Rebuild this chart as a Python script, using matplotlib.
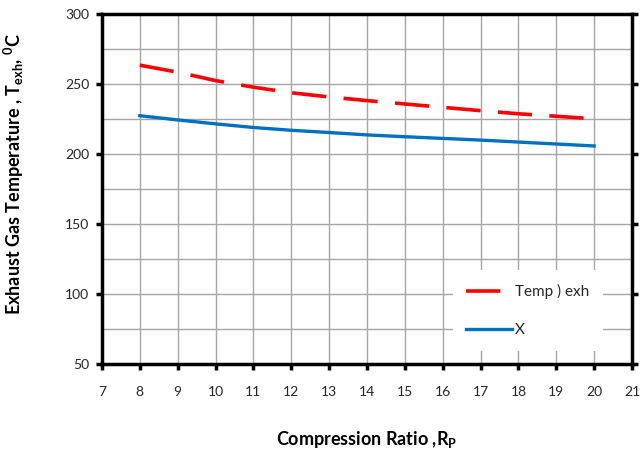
import matplotlib
matplotlib.use("Agg")
import matplotlib.pyplot as plt
from matplotlib.ticker import MultipleLocator

plt.rcParams['font.family'] = ['Lato', 'DejaVu Sans']
plt.rcParams['mathtext.fontset'] = 'custom'
plt.rcParams['mathtext.rm'] = 'Lato'
plt.rcParams['mathtext.bf'] = 'Lato:bold'

compression_ratio = [8, 9, 10, 11, 12, 13, 14, 15, 16, 17, 18, 19, 20]
temp_exh = [263.5, 258.5, 252.5, 247.8, 243.8, 240.8, 238.2, 235.8, 233.4, 231.0, 228.8, 227.0, 225.2]
x_series = [227.4, 224.4, 221.6, 219.0, 217.0, 215.4, 213.7, 212.4, 211.2, 210.0, 208.6, 207.2, 205.8]

fig = plt.figure(figsize=(6.41, 4.54), dpi=100)
ax = fig.add_axes([0.159, 0.198, 0.827, 0.771])

ax.plot(compression_ratio, temp_exh, color='#ff0000', lw=2.6, dashes=(9.5, 4.8),
        label='Temp ) exh', zorder=3)
ax.plot(compression_ratio, x_series, color='#0070c0', lw=2.4, label='X', zorder=3)

ax.set_xlim(7, 21)
ax.set_ylim(50, 300)
ax.xaxis.set_major_locator(MultipleLocator(1))
ax.yaxis.set_major_locator(MultipleLocator(50))
ax.yaxis.set_minor_locator(MultipleLocator(25))
ax.grid(True, which='both', color='#a6a6a6', lw=1.0, zorder=0)
ax.set_axisbelow(True)

for s in ax.spines.values():
    s.set_linewidth(2.5)
    s.set_color('black')

ax.tick_params(axis='x', which='major', direction='out', length=4, width=2.5,
               labelsize=10, labelcolor='#262626', pad=12)
ax.tick_params(axis='y', which='major', direction='out', length=4, width=2.5,
               labelsize=10, labelcolor='#262626', right=True, pad=5)
ax.tick_params(axis='y', which='minor', length=0)

ax.set_xlabel(r'Compression Ratio ,R$_\mathbf{P}$', fontsize=13, fontweight='bold',
              labelpad=22)
ax.set_ylabel(r'Exhaust Gas Temperature , T$_\mathbf{exh}$, $^\mathbf{0}$C', fontsize=13,
              fontweight='bold')
ax.yaxis.set_label_coords(-0.143, 0.543)

leg = ax.legend(loc='lower right', bbox_to_anchor=(0.96, 0.015), frameon=True,
                edgecolor='none', facecolor='white', framealpha=1, fancybox=False,
                fontsize=11, handlelength=3.0, labelspacing=1.6, handletextpad=0.2,
                borderpad=0.9)
for t in leg.get_texts():
    t.set_color('#262626')

fig.savefig('out.png', dpi=100)
